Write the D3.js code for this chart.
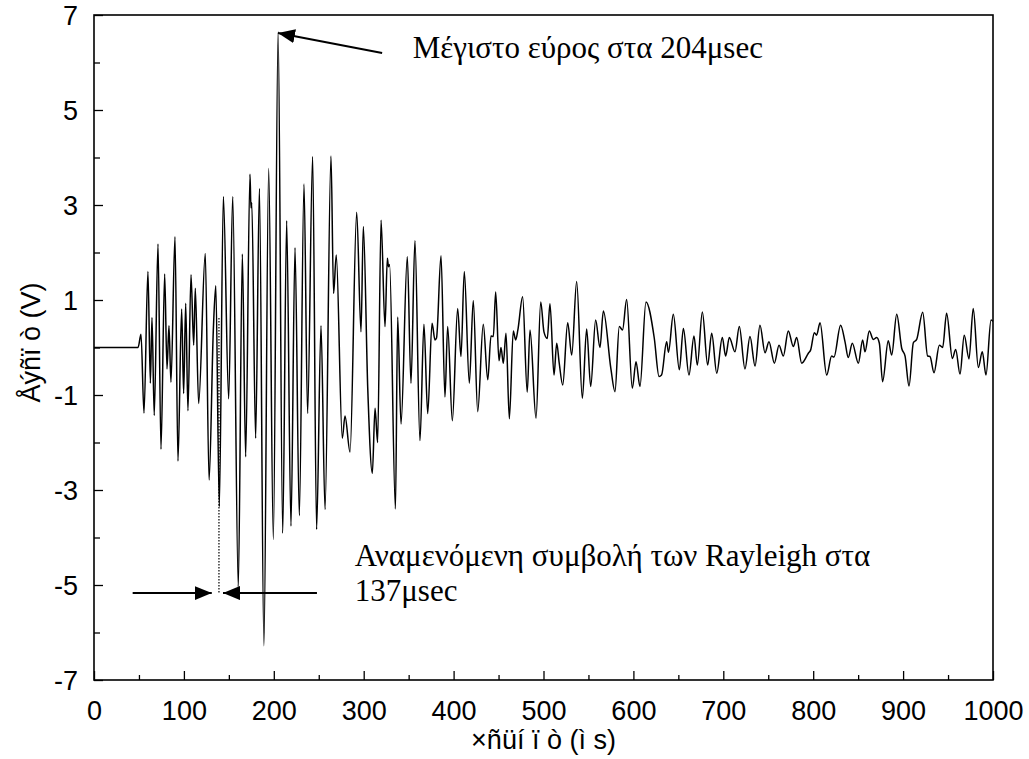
<!DOCTYPE html>
<html><head><meta charset="utf-8">
<script src="https://cdn.jsdelivr.net/npm/d3@7"></script>
<style>body{margin:0;background:#fff}</style>
</head><body>
<svg id="chart" width="1029" height="759"></svg>
<script>
const timeUs = [0,49,52.3,55.6,60,62.7,64.5,67,71.2,74.5,78.6,81.2,83.4,85.6,90.1,93.4,97.5,99.7,102,104.5,107.9,110.9,112.7,116.4,123.8,128,132.7,135.5,139.4,143.9,149.8,154.3,160.5,165,168.7,173.5,174.6,175.5,179.8,184,189,194.3,199.5,204.8,209.9,214.3,219.1,223.6,228.4,233.6,237.6,243.2,247.6,252.5,257,263.6,266.5,269.5,276.2,279.2,284.8,292.2,297,299.6,304.5,309.6,312.6,315.5,319.3,323.7,326.3,327.6,328.8,335.3,337.8,341.5,348.5,352.6,357,362.6,367,371.2,376,379.3,381,386,390.4,393.4,398.6,404.5,408.2,411.9,417.5,421.9,426.8,433,438,441.6,444.2,446.8,450.5,452.7,455.3,458.3,462,466.4,469,471.5,476.8,481.9,485,491.7,496.9,500.5,504.2,507.2,511.7,514.7,517.5,521.4,526.9,531.4,536.9,543.2,548,552.5,558,562.8,566.6,574.9,579.5,584.3,587.9,592.5,598.8,602.9,607.3,614,623.2,628.5,631.3,637,639,644.4,651.1,655.6,661.8,667.4,671.1,676.7,682.6,687.1,692.7,698.9,702.6,706.7,713,717.8,724.1,729.7,735.3,740.8,746.4,750.8,756.8,762,766.8,772.3,777.9,781.6,787.2,794.6,797.2,801.3,803.8,807.6,815,820.5,823.1,830.5,835.4,839,843.5,850.2,855,857.6,862.4,866.9,870.6,873.6,877.2,883.5,887.3,892.9,898.5,902.2,906.6,911.4,915.1,921.8,927.3,929.9,934.4,940.3,944,948.4,954.8,958.5,963.3,968,973.3,978,983.7,988.1,992.2,997.8,1000];
const amplitudeV = [0,0,0.28,-1.38,1.6,-0.75,0.63,-1.43,2.18,-2.14,1.55,-0.45,0.46,-0.73,2.33,-2.39,0.81,-0.97,0.93,-1.33,1.53,0.05,1.25,-1.18,1.98,-2.79,0.35,1.3,-3.35,3.18,-1.08,3.18,-5.04,1.97,-2.3,3.65,2.94,3.05,-1.91,3.35,-6.28,3.77,-4.04,6.65,-3.91,2.67,-3.76,2.1,-3.54,3.44,-1.39,4.02,-3.83,0.46,-3.41,4.03,1.14,1.95,-1.91,-1.44,-2.2,2.85,0.33,2.55,-0.86,-2.65,-1.28,-2.0,2.68,0.44,1.88,1.7,1.75,-3.4,0.64,-1.61,1.91,-0.75,2.25,-1.96,0.49,-1.39,0.51,0.16,0.2,1.93,-1.04,0.44,-1.54,0.82,-0.19,1.6,-0.75,0.99,-1.35,0.49,-0.68,0.24,0.23,1.17,-0.28,0.0,-0.33,0.3,-1.5,0.35,0.16,0.37,1.07,-0.94,0.37,-1.49,0.96,0.33,0.19,0.92,-0.58,0.09,-0.33,-0.79,0.52,-0.16,1.39,-1.07,0.39,-0.82,0.58,0.0,0.77,-0.44,-0.93,0.44,0.37,1.01,-0.86,-0.3,-0.82,0.96,0.2,-0.61,-0.58,0.12,-0.1,0.7,-0.47,0.4,-0.58,0.24,-0.37,0.75,-0.37,0.3,-0.54,0.21,-0.18,0.21,-0.09,0.44,-0.45,0.23,-0.39,0.47,-0.11,0.12,-0.33,0.05,-0.18,0.35,0.02,0.21,-0.33,-0.12,-0.05,0.31,0.26,0.52,-0.58,-0.18,-0.2,0.47,0.12,-0.21,0.09,-0.33,0.16,-0.09,0.35,0.17,0.21,0.09,-0.72,0.14,-0.16,0.7,-0.02,-0.18,-0.81,0.1,0.17,0.74,-0.18,-0.19,-0.53,0.05,0.0,0.72,-0.23,-0.04,-0.56,0.26,-0.24,0.82,-0.42,-0.09,-0.58,0.58,0.55];
const xMajorTicks = [0,100,200,300,400,500,600,700,800,900,1000];
const xMinorTicks = [50,150,250,350,450,550,650,750,850,950];
const yMajorTicks = [-7,-5,-3,-1,1,3,5,7];
const yMinorTicks = [-6,-4,-2,0,2,4,6];
const xTitle = "×ñüí ï ò (ì s)";
const yTitle = "Åýñï ò (V)";
const maxNote = "Μέγιστο εύρος στα 204μsec";
const rayleighNote = ["Αναμενόμενη συμβολή των Rayleigh στα", "137μsec"];
const maxPoint = {t: 204.6, v: 6.62};
const maxArrowTail = {t: 320.5, v: 6.2};
const maxTextAt = {t: 354.5, v: 6.1};
const rayleighTime = 139;
const rayleighArrowV = -5.17;
const rayleighDotTop = 0.62;
const rayleighLeftTail = 43, rayleighLeftTip = 131;
const rayleighRightTail = 248, rayleighRightTip = 143.5;
const rayleighTextAt = {t: 290, v: -4.6};

const svg = d3.select("#chart");
const W = 1029, H = 759;
const m = {l: 94, r: W - 993, t: 15, b: H - 680};
const x = d3.scaleLinear().domain([0, 1000]).range([m.l, W - m.r]);
const y = d3.scaleLinear().domain([-7, 7]).range([H - m.b, m.t]);

svg.append("defs").append("marker")
  .attr("id", "ah").attr("markerUnits", "userSpaceOnUse")
  .attr("viewBox", "0 0 17 14").attr("refX", 17).attr("refY", 7)
  .attr("markerWidth", 17).attr("markerHeight", 14).attr("orient", "auto")
  .append("path").attr("d", "M0,0L17,7L0,14Z").attr("fill", "#000");

const data = timeUs.map((t, i) => ({t, v: amplitudeV[i]}));
const line = d3.line().x(d => x(d.t)).y(d => y(d.v)).curve(d3.curveMonotoneX);

svg.append("path").datum(data).attr("d", line)
  .attr("fill", "none").attr("stroke", "#000").attr("stroke-width", 1.5)
  .attr("stroke-linejoin", "round");

// axes
const axisFont = "'Liberation Sans', Arial, sans-serif";
const fmt = d => String(d);
const gx = svg.append("g").attr("transform", `translate(0,${H - m.b})`);
gx.call(d3.axisBottom(x).tickValues(xMinorTicks).tickSize(-5).tickFormat(""));
const gx2 = svg.append("g").attr("transform", `translate(0,${H - m.b})`);
gx2.call(d3.axisBottom(x).tickValues(xMajorTicks).tickSize(-9).tickPadding(20).tickFormat(fmt));
const gy = svg.append("g").attr("transform", `translate(${m.l},0)`);
gy.call(d3.axisLeft(y).tickValues(yMinorTicks).tickSize(-6).tickFormat(""));
const gy2 = svg.append("g").attr("transform", `translate(${m.l},0)`);
gy2.call(d3.axisLeft(y).tickValues(yMajorTicks).tickSize(-9).tickPadding(16).tickFormat(fmt));
svg.selectAll(".domain").remove();
svg.selectAll(".tick line").attr("stroke", "#000").attr("stroke-width", 1.3);
svg.selectAll(".tick text").attr("font-family", axisFont).attr("font-size", 27).attr("fill", "#000");
gx2.selectAll(".tick text").attr("dy", "0.71em").attr("y", 21);
gy2.selectAll(".tick text").attr("dy", "0.36em");

svg.append("rect").attr("x", m.l).attr("y", m.t)
  .attr("width", W - m.r - m.l).attr("height", H - m.b - m.t)
  .attr("fill", "none").attr("stroke", "#000").attr("stroke-width", 1.6);

svg.append("text").attr("x", (m.l + W - m.r) / 2).attr("y", 749)
  .attr("text-anchor", "middle").attr("font-family", axisFont).attr("font-size", 27)
  .text(xTitle);
svg.append("text").attr("transform", `translate(40,${(m.t + H - m.b) / 2 - 5}) rotate(-90)`)
  .attr("text-anchor", "middle").attr("font-family", axisFont).attr("font-size", 27)
  .text(yTitle);

// annotations
const serif = "'Liberation Serif', 'Times New Roman', serif";
svg.append("line")
  .attr("x1", x(maxArrowTail.t)).attr("y1", y(maxArrowTail.v))
  .attr("x2", x(maxPoint.t)).attr("y2", y(maxPoint.v))
  .attr("stroke", "#000").attr("stroke-width", 2).attr("marker-end", "url(#ah)");
svg.append("text").attr("x", x(maxTextAt.t)).attr("y", y(maxTextAt.v))
  .attr("font-family", serif).attr("font-size", 31).text(maxNote);

svg.append("line")
  .attr("x1", x(rayleighTime)).attr("x2", x(rayleighTime))
  .attr("y1", y(rayleighDotTop)).attr("y2", y(rayleighArrowV))
  .attr("stroke", "#000").attr("stroke-width", 1.2).attr("stroke-dasharray", "1.5,1.5");
svg.append("line")
  .attr("x1", x(rayleighLeftTail)).attr("x2", x(rayleighLeftTip))
  .attr("y1", y(rayleighArrowV)).attr("y2", y(rayleighArrowV))
  .attr("stroke", "#000").attr("stroke-width", 2).attr("marker-end", "url(#ah)");
svg.append("line")
  .attr("x1", x(rayleighRightTail)).attr("x2", x(rayleighRightTip))
  .attr("y1", y(rayleighArrowV)).attr("y2", y(rayleighArrowV))
  .attr("stroke", "#000").attr("stroke-width", 2).attr("marker-end", "url(#ah)");
const rt = svg.append("text").attr("font-family", serif).attr("font-size", 31);
rayleighNote.forEach((s, i) => {
  rt.append("tspan").attr("x", x(rayleighTextAt.t)).attr("y", y(rayleighTextAt.v) + i * 35).text(s);
});
</script>
</body></html>
